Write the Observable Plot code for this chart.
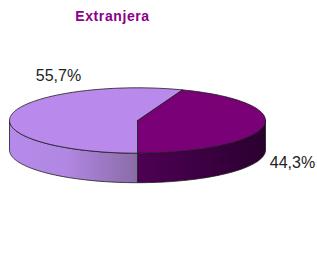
<!DOCTYPE html>
<html><head><meta charset="utf-8">
<script src="https://cdn.jsdelivr.net/npm/d3@7"></script>
<script src="https://cdn.jsdelivr.net/npm/@observablehq/plot@0.6"></script>
<style>body{margin:0;background:#fff}#chart svg{display:block}</style>
</head><body><div id="chart"></div>
<script>
// ---- data ----
const title = "Extranjera";
const categories = ["B", "A"];
const values = [44.3, 55.7];
const valueLabels = ["44,3%", "55,7%"];
const topColors = ["#790077", "#B98AEC"];
const sideIds = ["sideDark", "sideLight"];

// ---- layout ----
const W = 317, H = 266;
const cx = 137, cy = 120, rx = 128, ry = 32.7, depth = 29.5;
const startDeg = 20.5;
const labelAnchors = [{x: 292, y: 167.3}, {x: 58, y: 80}];

const rad = d => d * Math.PI / 180;
const pt = (deg, dz = 0) => ({x: cx + rx * Math.sin(rad(deg)), y: cy - ry * Math.cos(rad(deg)) + dz});
function arc(a, b, dz) {
  const n = Math.max(2, Math.ceil(Math.abs(b - a) / 1.5));
  return d3.range(n + 1).map(i => pt(a + (b - a) * i / n, dz));
}

const total = d3.sum(values);
let acc = startDeg;
const slices = values.map((v, i) => {
  const a = acc, b = acc + v / total * 360;
  acc = b;
  return {i, a, b};
});

// visible side (front half: 90..270 degrees)
function sidePoly(a, b) {
  const polys = [];
  for (const k of [-360, 0, 360]) {
    const lo = Math.max(a, 90 + k), hi = Math.min(b, 270 + k);
    if (hi > lo) {
      const top = arc(lo, hi, 0);
      const bot = arc(hi, lo, depth);
      polys.push([...top, ...bot, top[0]]);
    }
  }
  return polys;
}

const marks = [];
// gradient defs
marks.push((index, scales) => {
  const ns = "http://www.w3.org/2000/svg";
  const defs = document.createElementNS(ns, "defs");
  const grads = [
    {id: "sideLight", x1: cx - rx, x2: cx, stops: [[0, "#B68AEA"], [0.45, "#B087E2"], [1, "#8A6BA6"]]},
    {id: "sideDark", x1: cx, x2: cx + rx, stops: [[0, "#4E0054"], [1, "#2B0030"]]}
  ];
  for (const g of grads) {
    const lg = document.createElementNS(ns, "linearGradient");
    lg.setAttribute("id", g.id);
    lg.setAttribute("gradientUnits", "userSpaceOnUse");
    lg.setAttribute("x1", scales.x(g.x1)); lg.setAttribute("x2", scales.x(g.x2));
    lg.setAttribute("y1", 0); lg.setAttribute("y2", 0);
    for (const [o, c] of g.stops) {
      const s = document.createElementNS(ns, "stop");
      s.setAttribute("offset", o); s.setAttribute("stop-color", c);
      lg.appendChild(s);
    }
    defs.appendChild(lg);
  }
  return defs;
});

const edge = {stroke: "#1a1a1a", strokeWidth: 0.8, strokeLinejoin: "round"};
for (const s of slices) {
  for (const poly of sidePoly(s.a, s.b)) {
    marks.push(Plot.line(poly, {x: "x", y: "y", fill: `url(#${sideIds[s.i]})`, ...edge}));
  }
}
for (const s of slices) {
  const c = {x: cx, y: cy};
  const poly = [c, ...arc(s.a, s.b, 0), c];
  marks.push(Plot.line(poly, {x: "x", y: "y", fill: topColors[s.i], ...edge}));
}

const labelData = valueLabels.map((t, i) => ({t, ...labelAnchors[i]}));
marks.push(Plot.text(labelData, {x: "x", y: "y", text: "t", fontSize: 16, fill: "#222", lineAnchor: "bottom", textAnchor: "middle"}));
marks.push(Plot.text([title], {x: () => 112, y: () => 20.7, text: d => d, fontSize: 14, fontWeight: "bold", fill: "#8A008A", lineAnchor: "bottom", textAnchor: "middle"}));

const chart = Plot.plot({
  width: W, height: H, margin: 0,
  x: {domain: [0, W], range: [0, W], axis: null},
  y: {domain: [0, H], range: [0, H], axis: null},
  style: {background: "#fff", fontFamily: "'Liberation Sans', Arial, Helvetica, sans-serif"},
  marks
});
for (const t of chart.querySelectorAll("text")) {
  if (t.textContent === title) t.setAttribute("letter-spacing", "0.6");
}
document.getElementById("chart").appendChild(chart);
</script>
</body></html>
